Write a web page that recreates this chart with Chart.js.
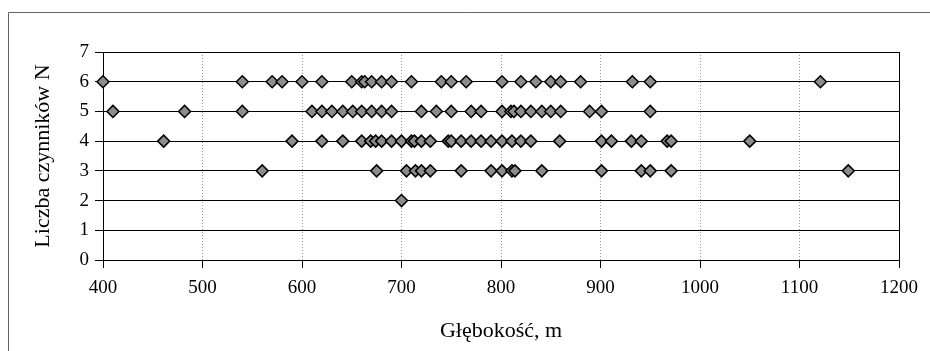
<!DOCTYPE html>
<html>
<head>
<meta charset="utf-8">
<script src="https://cdn.jsdelivr.net/npm/chart.js@4"></script>
<style>
  body { margin: 0; background: #fff; }
  canvas { display: block; }
</style>
</head>
<body>
<canvas id="depthChart" width="930" height="351"></canvas>
<script>
// depth (m) of each sample, grouped by number of factors N
const depthN2 = [700]
const depthN3 = [560, 675, 705, 714, 720, 729, 760, 790, 801, 811, 814, 841, 901, 941, 950, 971, 1149]
const depthN4 = [461, 590, 620, 641, 660, 669, 674, 680, 690, 700, 710, 713, 720, 729, 747, 750, 760, 770, 780, 790,
    801, 811, 820, 830, 859, 901, 911, 931, 941, 967, 971, 1050]
const depthN5 = [410, 482, 540, 610, 620, 630, 641, 651, 660, 670, 680, 690, 720, 735, 750, 770, 780,
    801, 810, 813, 820, 830, 841, 850, 860, 889, 901, 950]
const depthN6 = [400, 540, 570, 580, 600, 620, 650, 660, 663, 670, 680, 690, 710, 740, 750, 765,
    801, 820, 835, 850, 860, 880, 932, 950, 1121]

const xTicks = [400, 500, 600, 700, 800, 900, 1000, 1100, 1200]
const yTicks = [0, 1, 2, 3, 4, 5, 6, 7]

const groups = [[2, depthN2], [3, depthN3], [4, depthN4], [5, depthN5], [6, depthN6]]
const points = []
groups.forEach(([n, depths]) => {
    depths.forEach(d => points.push({ x: d, y: n }))
})

const serif = 'Liberation Serif, Times New Roman, serif'

// plot frame + outer chart border
const framePlugin = {
    id: 'frame',
    beforeDraw(chart) {
        const ctx = chart.ctx
        ctx.save()
        ctx.fillStyle = '#fff'
        ctx.fillRect(0, 0, chart.width, chart.height)
        ctx.strokeStyle = '#666'
        ctx.lineWidth = 1
        ctx.beginPath()
        ctx.moveTo(8.5, chart.height)
        ctx.lineTo(8.5, 12.5)
        ctx.lineTo(chart.width, 12.5)
        ctx.stroke()
        ctx.restore()
    },
    beforeDatasetsDraw(chart) {
        const { ctx, chartArea: a } = chart
        ctx.save()
        ctx.strokeStyle = '#000'
        ctx.lineWidth = 1
        ctx.strokeRect(Math.round(a.left) + 0.5, Math.round(a.top) + 0.5,
            Math.round(a.right - a.left), Math.round(a.bottom - a.top))
        ctx.restore()
    }
}

new Chart(document.getElementById('depthChart').getContext('2d'), {
    type: 'scatter',
    data: {
        datasets: [{
            data: points,
            clip: false,
            pointStyle: 'rectRot',
            pointRadius: 6,
            pointHoverRadius: 6,
            backgroundColor: '#8c8c8c',
            borderColor: '#000',
            borderWidth: 1.5
        }]
    },
    options: {
        responsive: false,
        animation: false,
        layout: { padding: { top: 52, right: 31, left: 0, bottom: 0 } },
        plugins: {
            legend: { display: false },
            tooltip: { enabled: false }
        },
        scales: {
            x: {
                type: 'linear',
                min: xTicks[0],
                max: xTicks[xTicks.length - 1],
                afterBuildTicks: (scale) => { scale.ticks = xTicks.map(v => ({ value: v })) },
                afterFit: (scale) => { scale.height = 91 },
                grid: { color: '#999', lineWidth: 1, tickColor: '#000', tickLength: 8, tickBorderDash: [] },
                border: { display: false, dash: [1, 2] },
                ticks: {
                    color: '#000',
                    font: { family: serif, size: 19 },
                    padding: 9,
                    maxRotation: 0,
                    callback: (v) => String(v)
                },
                title: {
                    display: true,
                    text: 'Głębokość, m',
                    color: '#000',
                    font: { family: serif, size: 22 },
                    padding: { top: 0, bottom: 7 }
                }
            },
            y: {
                min: yTicks[0],
                max: yTicks[yTicks.length - 1],
                afterBuildTicks: (scale) => { scale.ticks = yTicks.map(v => ({ value: v })) },
                afterFit: (scale) => { scale.width = 103 },
                grid: { color: '#000', lineWidth: 1, tickLength: 8 },
                border: { display: false },
                ticks: { color: '#000', font: { family: serif, size: 19 }, padding: 6 },
                title: {
                    display: true,
                    text: 'Liczba czynników N',
                    color: '#000',
                    font: { family: serif, size: 22 },
                    padding: { top: 30, bottom: 0 }
                }
            }
        }
    },
    plugins: [framePlugin]
})
</script>
</body>
</html>
